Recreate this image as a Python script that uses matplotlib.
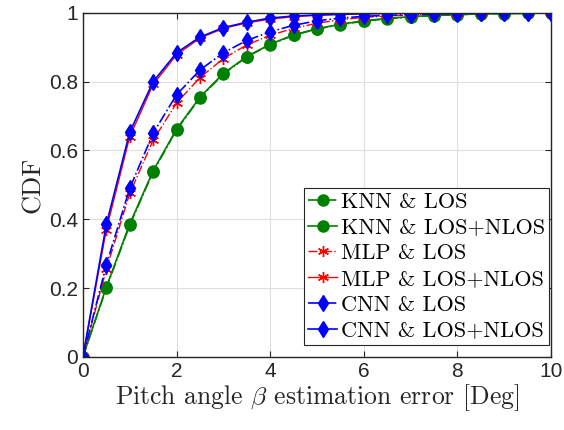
import numpy as np
import matplotlib
matplotlib.use("Agg")
import matplotlib.pyplot as plt

plt.rcParams["mathtext.fontset"] = "cm"
plt.rcParams["font.family"] = "serif"
plt.rcParams["font.serif"] = ["cmr10"]
plt.rcParams["axes.formatter.use_mathtext"] = True

# error values (deg)
err = np.arange(0, 10.5, 0.5)

knn_los = [0, 0.200, 0.383, 0.538, 0.660, 0.753, 0.822, 0.872, 0.908, 0.935, 0.953,
           0.966, 0.976, 0.983, 0.988, 0.992, 0.995, 0.997, 0.998, 0.999, 1.0]
knn_mix = [0, 0.203, 0.386, 0.541, 0.662, 0.755, 0.824, 0.873, 0.909, 0.936, 0.954,
           0.967, 0.977, 0.984, 0.989, 0.993, 0.995, 0.997, 0.998, 0.999, 1.0]
mlp_los = [0, 0.255, 0.475, 0.630, 0.738, 0.812, 0.867, 0.907, 0.935, 0.955, 0.970,
           0.980, 0.987, 0.991, 0.994, 0.996, 0.998, 0.999, 0.999, 1.0, 1.0]
mlp_mix = [0, 0.370, 0.640, 0.792, 0.878, 0.927, 0.955, 0.971, 0.982, 0.989, 0.993,
           0.996, 0.997, 0.998, 0.999, 0.999, 1.0, 1.0, 1.0, 1.0, 1.0]
cnn_los = [0, 0.268, 0.490, 0.650, 0.762, 0.834, 0.884, 0.920, 0.945, 0.964, 0.977,
           0.985, 0.990, 0.993, 0.995, 0.997, 0.998, 0.999, 1.0, 1.0, 1.0]
cnn_mix = [0, 0.385, 0.653, 0.800, 0.884, 0.930, 0.957, 0.973, 0.985, 0.991, 0.994,
           0.996, 0.998, 0.999, 0.999, 1.0, 1.0, 1.0, 1.0, 1.0, 1.0]

labels = ["KNN & LOS", "KNN & LOS+NLOS", "MLP & LOS", "MLP & LOS+NLOS",
          "CNN & LOS", "CNN & LOS+NLOS"]

fig = plt.figure(figsize=(5.64, 4.30), dpi=100)
ax = fig.add_axes([0.147, 0.170, 0.830, 0.800])

green = "#008000"
ast = (6, 2, 0)
ax.plot(err, knn_los, "-.", color=green, marker="o", ms=8, lw=1.2, label=labels[0])
ax.plot(err, knn_mix, "-", color=green, marker="o", ms=8, lw=1.2, label=labels[1])
ax.plot(err, mlp_los, "-.", color="red", marker=ast, ms=8, mew=1.0, lw=1.0, label=labels[2])
ax.plot(err, mlp_mix, "-", color="red", marker=ast, ms=8, mew=1.0, lw=1.0, label=labels[3])
ax.plot(err, cnn_los, "-.", color="blue", marker="d", ms=8, lw=1.2, label=labels[4])
ax.plot(err, cnn_mix, "-", color="blue", marker="d", ms=8, lw=1.2, label=labels[5])

ax.set_xlim(0, 10)
ax.set_ylim(0, 1)
ax.set_xticks([0, 2, 4, 6, 8, 10])
ax.set_yticks([0, 0.2, 0.4, 0.6, 0.8, 1])
ax.set_xticklabels(["0", "2", "4", "6", "8", "10"])
ax.set_yticklabels(["0", "0.2", "0.4", "0.6", "0.8", "1"])
for t in ax.get_xticklabels() + ax.get_yticklabels():
    t.set_family("Liberation Sans")
    t.set_fontsize(15)
    t.set_color("#262626")
ax.tick_params(direction="in", top=True, right=True, length=4, color="#262626")
ax.grid(True, color="#dfdfdf", lw=0.8)
for s in ax.spines.values():
    s.set_color("#262626")
    s.set_linewidth(1.0)

ax.set_xlabel(r"Pitch angle $\beta$ estimation error [Deg]", fontsize=18.5, color="#262626", labelpad=1)
ax.set_ylabel("CDF", fontsize=19, color="#262626", labelpad=3)

leg = ax.legend(loc="lower right", bbox_to_anchor=(0.996, 0.035), borderaxespad=0,
                fontsize=16, fancybox=False, edgecolor="#262626", framealpha=1,
                handlelength=1.3, handletextpad=0.15, labelspacing=0.28, borderpad=0.2)
leg.get_frame().set_linewidth(0.8)

fig.savefig("out.png", dpi=100)
